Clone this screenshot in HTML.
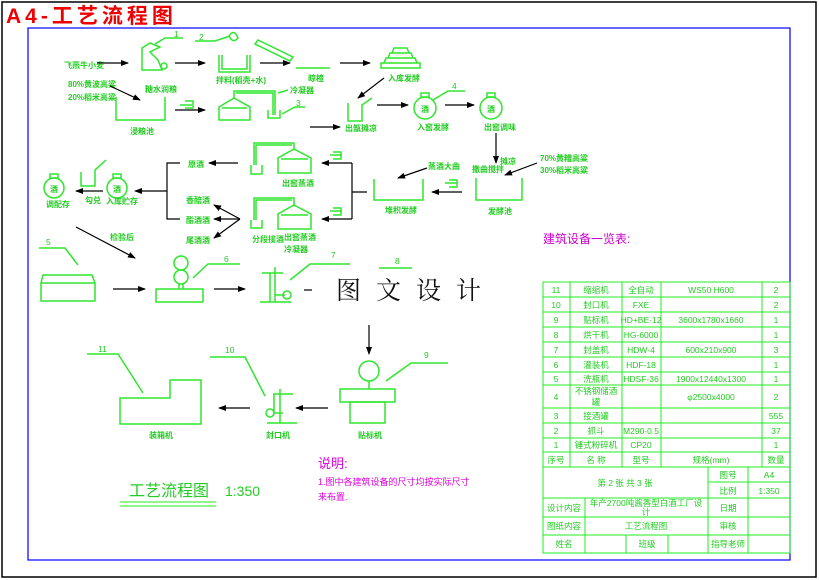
<!DOCTYPE html>
<html><head><meta charset="utf-8"><style>
html,body{margin:0;padding:0;background:#fff;width:819px;height:580px;overflow:hidden}
svg{display:block}
text{font-family:"Liberation Sans","Noto Sans CJK SC",sans-serif}
.g{stroke:#2ee62e;fill:none;stroke-width:1.5}
.k{stroke:#000;fill:none;stroke-width:1.2}
.t{fill:#22cc22;font-size:8px;font-weight:bold}
.tb{fill:#22cc22;font-size:8.5px}
</style></head><body>
<svg width="819" height="580" viewBox="0 0 819 580">
<defs><marker id="a" markerWidth="8" markerHeight="6" refX="7" refY="3" orient="auto" markerUnits="userSpaceOnUse"><path d="M0,0 L8,3 L0,6z" fill="#000"/></marker></defs>
<rect x="2" y="2" width="814" height="575" fill="none" stroke="#000" stroke-width="1.5"/>
<text x="6" y="23" font-size="21" font-weight="bold" fill="#e00" letter-spacing="4">A4-工艺流程图</text>
<rect x="28" y="28" width="762" height="532" fill="none" stroke="#00f" stroke-width="1.2"/>

<!-- top row -->
<text class="t" x="64" y="68">飞燕牛小麦</text>
<line class="k" x1="97" y1="63" x2="128" y2="63" marker-end="url(#a)"/>
<path class="g" d="M142,48 L150,43 L160,47 L150,52 L158,60 L162,70 L142,70Z"/>
<circle class="g" cx="164" cy="66" r="3"/>
<path class="g" d="M155,44 L165,38 L183,38"/><text class="tb" x="174" y="37">1</text>
<line class="k" x1="175" y1="63" x2="205" y2="63" marker-end="url(#a)"/>
<path class="g" d="M219,55 L219,72 L250,72 L250,55 M222,55 L222,69 L247,69 L247,55"/>
<path class="g" d="M195,41 L215,41 L230,36"/><text class="tb" x="199" y="40">2</text>
<path class="g" d="M229,36 Q234,28 238,38 Q233,44 229,36"/>
<text class="t" x="216" y="83">拌料(稻壳+水)</text>
<line class="k" x1="260" y1="63" x2="290" y2="63" marker-end="url(#a)"/>
<path class="g" d="M258,40 L293,57 L290,61 L255,44Z"/>
<line class="g" x1="296" y1="68" x2="330" y2="68"/><text class="t" x="308" y="81">晾楂</text>
<line class="k" x1="340" y1="63" x2="370" y2="63" marker-end="url(#a)"/>
<path class="g" d="M381,68 L420,68 L420,63 L381,63Z M384,63 L417,63 L415,58 L386,58Z M388,58 L413,58 L411,53 L390,53Z M392,53 L409,53 L407,48 L394,48Z"/>
<text class="t" x="388" y="81">入库发酵</text>
<line class="k" x1="384" y1="78" x2="358" y2="98" marker-end="url(#a)"/>
<text class="t" x="68" y="87">80%黄波高粱</text><text class="t" x="68" y="100">20%稻米高粱</text>
<line class="k" x1="110" y1="86" x2="140" y2="100" marker-end="url(#a)"/>
<text class="t" x="145" y="92">糖水润粮</text>
<path class="g" d="M116,97 L116,120 L165,120 L165,97"/>
<text class="t" x="130" y="134">浸粮池</text>
<path class="g" d="M180,105 L192,105 M185,101 L193,101 L193,108 L185,108"/>
<line class="k" x1="175" y1="110" x2="205" y2="110" marker-end="url(#a)"/>
<path class="g" d="M219,107 L219,120 L250,120 L250,107 L234,98Z M222,108 L247,108"/>
<path class="g" d="M234,98 L234,91 L275,91 L275,115 M236,93 L273,93 L273,115"/>
<path class="g" d="M268,110 L268,118 L280,118 L280,110"/>
<text class="t" x="290" y="93">冷凝器</text><path class="g" d="M278,93 L288,90"/>
<path class="g" d="M282,114 L295,107 L305,107"/><text class="tb" x="296" y="106">3</text>
<line class="k" x1="310" y1="127" x2="340" y2="127" marker-end="url(#a)"/>
<path class="g" d="M348,103 L348,121 L362,121 L362,105 L372,98"/>
<text class="t" x="345" y="131">出甑摊凉</text>
<line class="k" x1="377" y1="105" x2="408" y2="105" marker-end="url(#a)"/>
<circle class="g" cx="425" cy="108" r="11"/><rect class="g" x="421" y="93" width="8" height="4"/>
<text class="t" x="421" y="112" font-size="7">酒</text><text class="t" x="417" y="130">入窖发酵</text>
<path class="g" d="M433,100 L448,91 L465,91"/><text class="tb" x="452" y="89">4</text>
<line class="k" x1="445" y1="105" x2="474" y2="105" marker-end="url(#a)"/>
<circle class="g" cx="491" cy="108" r="11"/><rect class="g" x="487" y="93" width="8" height="4"/>
<text class="t" x="487" y="112" font-size="7">酒</text><text class="t" x="484" y="130">出窖调味</text>
<line class="k" x1="496" y1="133" x2="496" y2="163" marker-end="url(#a)"/>
<text class="t" x="500" y="164">摊凉</text><text class="t" x="472" y="172">撒曲搅拌</text>
<text class="t" x="540" y="161">70%黄糟高粱</text><text class="t" x="540" y="173">30%稻米高粱</text>
<line class="k" x1="537" y1="163" x2="505" y2="175" marker-end="url(#a)"/>
<path class="g" d="M476,178 L476,200 L522,200 L522,178"/><text class="t" x="488" y="214">发酵池</text>
<path class="g" d="M445,183 L457,183 M449,180 L457,180 L457,187 L449,187"/>
<line class="k" x1="462" y1="192" x2="432" y2="192" marker-end="url(#a)"/>
<path class="g" d="M374,179 L374,200 L423,200 L423,179"/><text class="t" x="385" y="213">堆积发酵</text>
<text class="t" x="428" y="169">蒸酒大曲</text><line class="k" x1="427" y1="168" x2="398" y2="178" marker-end="url(#a)"/>
<!-- branch -->
<path class="k" d="M367,192 L352,192 M352,163 L352,219"/>
<line class="k" x1="352" y1="163" x2="322" y2="163" marker-end="url(#a)"/>
<line class="k" x1="352" y1="219" x2="322" y2="219" marker-end="url(#a)"/>
<path class="g" d="M330,155 L342,155 M333,152 L341,152 L341,159 L333,159"/>
<path class="g" d="M330,211 L342,211 M333,208 L341,208 L341,215 L333,215"/>
<path class="g" d="M278,158 L278,173 L311,173 L311,158 L294,149Z M281,159 L308,159"/>
<path class="g" d="M294,149 L294,143 L254,143 L254,165 M292,145 L256,145 L256,165"/>
<path class="g" d="M251,165 L251,174 L262,174 L262,165"/>
<text class="t" x="282" y="186">出窖蒸酒</text>
<path class="g" d="M278,214 L278,229 L311,229 L311,214 L294,205Z M281,215 L308,215"/>
<path class="g" d="M294,205 L294,198 L254,198 L254,220 M292,200 L256,200 L256,220"/>
<path class="g" d="M251,220 L251,228 L262,228 L262,220"/>
<text class="t" x="284" y="240">出窖蒸酒</text><text class="t" x="284" y="252">冷凝器</text><text class="t" x="252" y="242">分段接酒</text>
<line class="k" x1="238" y1="163" x2="209" y2="163" marker-end="url(#a)"/>
<text class="t" x="188" y="167">原酒</text>
<text class="t" x="186" y="203">香醅酒</text><text class="t" x="186" y="223">酯酒酒</text><text class="t" x="186" y="243">尾酒酒</text>
<line class="k" x1="240" y1="219" x2="214" y2="205" marker-end="url(#a)"/>
<line class="k" x1="240" y1="219" x2="214" y2="219" marker-end="url(#a)"/>
<line class="k" x1="240" y1="219" x2="214" y2="238" marker-end="url(#a)"/>
<path class="k" d="M180,163 L167,163 L167,219 L180,219 M167,191 L140,191"/>
<line class="k" x1="140" y1="191" x2="135" y2="191" marker-end="url(#a)"/>
<circle class="g" cx="117" cy="188" r="10"/><rect class="g" x="113" y="174" width="8" height="4"/>
<text class="t" x="113" y="192" font-size="7">酒</text><text class="t" x="106" y="204">入库贮存</text>
<path class="g" d="M81,172 L81,186 L95,186 L95,170 L106,160"/>
<line class="k" x1="103" y1="191" x2="76" y2="191" marker-end="url(#a)"/>
<text class="t" x="85" y="203">勾兑</text>
<circle class="g" cx="54" cy="188" r="10"/><rect class="g" x="50" y="174" width="8" height="4"/>
<text class="t" x="50" y="192" font-size="7">酒</text><text class="t" x="46" y="207">调配存</text>
<text class="t" x="110" y="240">检验后</text>
<line class="k" x1="76" y1="227" x2="135" y2="258" marker-end="url(#a)"/>
<!-- row 5-8 -->
<path class="g" d="M39,248 L65,248 L78,265"/><text class="tb" x="46" y="245">5</text>
<path class="g" d="M41,301 L41,283 L43,275 L92,275 L95,283 L95,301Z M41,283 L95,283"/>
<line class="k" x1="113" y1="289" x2="145" y2="289" marker-end="url(#a)"/>
<rect class="g" x="156" y="289" width="47" height="13"/>
<circle class="g" cx="181" cy="263" r="7"/><circle class="g" cx="181" cy="277" r="7"/><path class="g" d="M179,284 L179,289 M183,284 L183,289"/>
<path class="g" d="M193,278 L208,264 L240,264"/><text class="tb" x="224" y="262">6</text>
<line class="k" x1="214" y1="289" x2="245" y2="289" marker-end="url(#a)"/>
<path class="g" d="M262,273 L283,273 M275,267 L275,302 M270,273 L270,302 M260,302 L291,302 M275,295 L285,295"/>
<circle class="g" cx="287" cy="295" r="4"/>
<path class="g" d="M290,280 L310,264 L350,264"/><text class="tb" x="331" y="258">7</text>
<line class="k" x1="304" y1="290" x2="312" y2="290"/>
<path class="g" d="M379,268 L412,268"/><text class="tb" x="395" y="264">8</text>
<text x="336" y="299" font-size="25" fill="#111" style="font-family:'Noto Serif CJK SC',serif" letter-spacing="15">图文设计</text>
<line class="k" x1="369" y1="325" x2="369" y2="354" marker-end="url(#a)"/>
<circle class="g" cx="369" cy="371" r="10"/><line class="g" x1="369" y1="381" x2="369" y2="389"/>
<rect class="g" x="340" y="389" width="55" height="13"/><rect class="g" x="350" y="402" width="35" height="21"/>
<path class="g" d="M386,381 L411,363 L448,363"/><text class="tb" x="424" y="358">9</text>
<text class="t" x="358" y="438">贴标机</text>
<line class="k" x1="328" y1="408" x2="296" y2="408" marker-end="url(#a)"/>
<path class="g" d="M273,394 L293,394 M280,389 L280,423 M274,394 L274,413 M267,423 L297,423 M274,413 L283,413"/>
<circle class="g" cx="270" cy="413" r="4"/>
<path class="g" d="M265,396 L245,357 L210,357"/><text class="tb" x="225" y="353">10</text>
<text class="t" x="266" y="438">封口机</text>
<line class="k" x1="250" y1="408" x2="219" y2="408" marker-end="url(#a)"/>
<path class="g" d="M120,398 L170,398 L170,380 L201,380 L201,424 L120,424Z"/>
<path class="g" d="M143,393 L118,354 L87,354"/><text class="tb" x="98" y="352">11</text>
<text class="t" x="149" y="438">装箱机</text>
<text x="129" y="496" font-size="16" fill="#22cc22">工艺流程图</text>
<text x="225" y="496" font-size="14" fill="#22cc22">1:350</text>
<path d="M120,502 L216,502 M120,506 L216,506" stroke="#2e2" stroke-width="1"/>
<text x="318" y="468" font-size="13" fill="#d0d">说明:</text>
<text x="318" y="485" font-size="9" fill="#d0d">1.图中各建筑设备的尺寸均按实际尺寸</text>
<text x="318" y="500" font-size="9" fill="#d0d">来布置.</text>
<text x="543" y="243" font-size="12" fill="#c0c">建筑设备一览表:</text>

<!-- table -->
<g stroke="#2e2" stroke-width="1" fill="none">
<rect x="543" y="282" width="247" height="271"/>
<path d="M543,297H790M543,312H790M543,327H790M543,342H790M543,357H790M543,372H790M543,385H790M543,408H790M543,423H790M543,438H790M543,452H790M543,467H790"/>
<path d="M570,282V467M622,282V467M661,282V467M762,282V467"/>
<path d="M708,467V553M748,467V553M708,482H790M543,498H790M543,517H790M543,535H790"/>
<path d="M585,498V553M585,535V553M626,535V553M668,535V553"/>
</g>
<g class="tb" text-anchor="middle">
<text x="556" y="293">11</text><text x="596" y="293">缩缩机</text><text x="641" y="293">全自动</text><text x="711" y="293">WS50 H600</text><text x="776" y="293">2</text>
<text x="556" y="308">10</text><text x="596" y="308">封口机</text><text x="641" y="308">FXE</text><text x="776" y="308">2</text>
<text x="556" y="323">9</text><text x="596" y="323">贴标机</text><text x="641" y="323">HD+BE-12</text><text x="711" y="323">3600x1780x1660</text><text x="776" y="323">1</text>
<text x="556" y="338">8</text><text x="596" y="338">烘干机</text><text x="641" y="338">HG-6000</text><text x="776" y="338">1</text>
<text x="556" y="353">7</text><text x="596" y="353">封盖机</text><text x="641" y="353">HDW-4</text><text x="711" y="353">600x210x900</text><text x="776" y="353">3</text>
<text x="556" y="368">6</text><text x="596" y="368">灌装机</text><text x="641" y="368">HDF-18</text><text x="776" y="368">1</text>
<text x="556" y="382">5</text><text x="596" y="382">洗瓶机</text><text x="641" y="382">HDSF-36</text><text x="711" y="382">1900x12440x1300</text><text x="776" y="382">1</text>
<text x="556" y="400">4</text><text x="596" y="394">不锈钢储酒</text><text x="596" y="405">罐</text><text x="711" y="400">φ2500x4000</text><text x="776" y="400">2</text>
<text x="556" y="419">3</text><text x="596" y="419">接酒罐</text><text x="776" y="419">555</text>
<text x="556" y="434">2</text><text x="596" y="434">抓斗</text><text x="641" y="434">M290-0.5</text><text x="776" y="434">37</text>
<text x="556" y="448">1</text><text x="596" y="448">锤式粉碎机</text><text x="641" y="448">CP20</text><text x="776" y="448">1</text>
<text x="556" y="463">序号</text><text x="596" y="463">名 称</text><text x="641" y="463">型号</text><text x="711" y="463">规格(mm)</text><text x="776" y="463">数量</text>
<text x="625" y="486">第 2 张  共 3 张</text><text x="728" y="478">图号</text><text x="769" y="478">A4</text>
<text x="728" y="494">比例</text><text x="769" y="494">1:350</text>
<text x="564" y="511">设计内容</text><text x="646" y="506">年产2700吨酱香型白酒工厂设</text><text x="646" y="515">计</text><text x="728" y="511">日期</text>
<text x="564" y="529">图纸内容</text><text x="646" y="529">工艺流程图</text><text x="728" y="529">审核</text>
<text x="564" y="547">姓名</text><text x="647" y="547">班级</text><text x="728" y="547">指导老师</text>
</g>
</svg>
</body></html>
